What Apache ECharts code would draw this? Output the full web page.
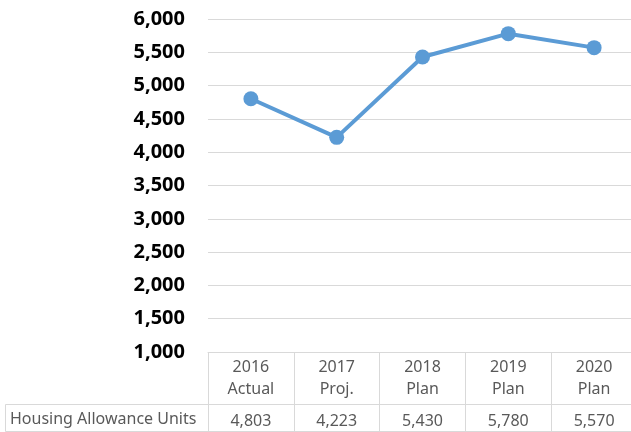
<!DOCTYPE html>
<html>
<head>
<meta charset="utf-8">
<script src="https://cdn.jsdelivr.net/npm/echarts@6/dist/echarts.min.js"></script>
<style>
  html, body { margin: 0; padding: 0; background: #fff; overflow: hidden; }
  /* a bit wider than the window: the original is cropped on the right */
  #main { width: 637px; height: 432px; }
</style>
</head>
<body>
<div id="main"></div>
<script>
// chart data
const years = ["2016", "2017", "2018", "2019", "2020"]
const stages = ["Actual", "Proj.", "Plan", "Plan", "Plan"]
const seriesName = "Housing Allowance Units"
const units = [4803, 4223, 5430, 5780, 5570]
const yMin = 1000
const yMax = 6000
const yStep = 500

const fmt = v => v.toLocaleString("en-US")
const headerLabels = years.map((y, i) => y + "\n" + stages[i])
const valueLabels = units.map(fmt)

const gridColor = "#d9d9d9"
const textColor = "#595959"
const font = "Noto Sans"

const chart = echarts.init(document.getElementById("main"))

const option = {
  animation: false,
  backgroundColor: "#fff",
  grid: { left: 208, right: 0, top: 19, bottom: 80 },
  xAxis: [
    {
      type: "category",
      data: headerLabels,
      boundaryGap: true,
      position: "bottom",
      axisLine: { show: true, lineStyle: { color: gridColor, width: 1 } },
      axisTick: { show: true, length: 52, lineStyle: { color: gridColor } },
      axisLabel: {
        margin: 4,
        lineHeight: 22,
        fontSize: 16,
        color: textColor,
        fontFamily: font,
      },
    },
    {
      type: "category",
      data: valueLabels,
      boundaryGap: true,
      position: "bottom",
      offset: 52,
      axisLine: { show: true, lineStyle: { color: gridColor, width: 1 } },
      axisTick: { show: true, length: 27, lineStyle: { color: gridColor } },
      axisLabel: {
        margin: 8,
        lineHeight: 18,
        fontSize: 16,
        color: textColor,
        fontFamily: font,
      },
    },
    {
      type: "category",
      data: years,
      position: "bottom",
      offset: 79,
      axisLine: { show: true, lineStyle: { color: gridColor, width: 1 } },
      axisTick: { show: false },
      axisLabel: { show: false },
    },
  ],
  yAxis: {
    type: "value",
    min: yMin,
    max: yMax,
    interval: yStep,
    axisLine: { show: false },
    axisTick: { show: false },
    splitLine: { lineStyle: { color: gridColor, width: 1 } },
    axisLabel: {
      margin: 23,
      fontSize: 20,
      fontWeight: "bold",
      color: "#000",
      fontFamily: font,
      formatter: fmt,
    },
  },
  series: [
    {
      name: seriesName,
      type: "line",
      data: units,
      symbol: "circle",
      symbolSize: 15,
      lineStyle: { color: "#5b9bd5", width: 4 },
      itemStyle: { color: "#5b9bd5" },
    },
  ],
  graphic: [
    {
      type: "rect",
      shape: { x: 5.5, y: 404.5, width: 203, height: 27 },
      style: { fill: "none", stroke: gridColor, lineWidth: 1 },
    },
    {
      type: "text",
      x: 10,
      y: 419,
      style: {
        text: seriesName,
        fontSize: 16,
        fill: textColor,
        fontFamily: font,
        verticalAlign: "middle",
      },
    },
  ],
}

chart.setOption(option)
</script>
</body>
</html>
